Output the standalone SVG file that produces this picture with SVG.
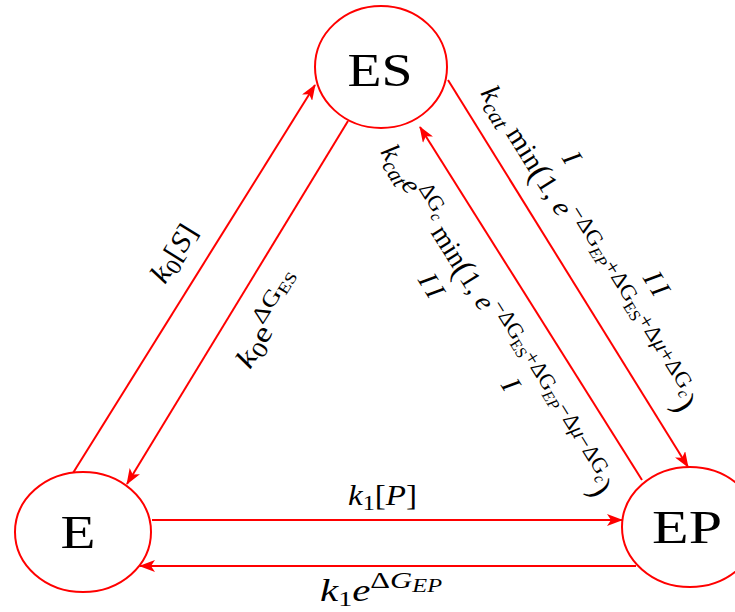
<svg xmlns="http://www.w3.org/2000/svg" width="735" height="612" viewBox="0 0 735 612">
<defs>
<marker id="arr" markerUnits="userSpaceOnUse" markerWidth="16" markerHeight="12" viewBox="0 0 16 12" refX="15" refY="6" orient="auto">
<path d="M0,0 L16,6 L0,12 L4,6 Z" fill="#f00"/>
</marker>
<style>
.node ellipse{fill:#fff;stroke:#f00;stroke-width:2}
.node text{font-family:"Liberation Serif","DejaVu Serif",serif;font-size:46px;text-anchor:middle;fill:#000}
.edge{stroke:#f00;stroke-width:2;fill:none;marker-end:url(#arr)}
.lbl{font-family:"Liberation Serif","DejaVu Serif",serif;font-size:28px;fill:#000}
.it{font-style:italic}
.s{font-size:22px}
.ss{font-size:16px}
.p{font-size:34px}
</style>
</defs>
<rect width="735" height="612" fill="#fff"/>
<g id="connectors">
<line class="edge" x1="73" y1="473" x2="315" y2="85"/>
<line class="edge" x1="348" y1="121" x2="127" y2="484"/>
<line class="edge" x1="448" y1="80" x2="688" y2="467"/>
<line class="edge" x1="642" y1="480" x2="420" y2="127"/>
<line class="edge" x1="152" y1="520" x2="622" y2="520"/>
<line class="edge" x1="636" y1="566" x2="140" y2="566"/>
</g>
<g id="labels">
<text class="lbl" x="348" y="505" style="font-size:30px" textLength="69" lengthAdjust="spacingAndGlyphs"><tspan class="it">k</tspan><tspan class="s" dy="5">1</tspan><tspan dy="-5">[</tspan><tspan class="it">P</tspan>]</text>
<text class="lbl" x="320" y="601" style="font-size:32px" textLength="122" lengthAdjust="spacingAndGlyphs"><tspan class="it">k</tspan><tspan style="font-size:22px" dy="5">1</tspan><tspan class="it" dy="-5">e</tspan><tspan style="font-size:24px" dy="-13">Δ</tspan><tspan style="font-size:24px" class="it">G</tspan><tspan style="font-size:19px" class="it" dy="4">EP</tspan></text>
<text class="lbl" transform="translate(165,285) rotate(-58)" style="font-size:29px" textLength="63" lengthAdjust="spacingAndGlyphs"><tspan class="it">k</tspan><tspan class="s" dy="5">0</tspan><tspan dy="-5">[</tspan><tspan class="it">S</tspan>]</text>
<text class="lbl" transform="translate(250,370) rotate(-58)" textLength="105" lengthAdjust="spacingAndGlyphs"><tspan class="it">k</tspan><tspan class="s" dy="5">0</tspan><tspan dy="-5">e</tspan><tspan class="s" dy="-13">ΔG</tspan><tspan class="ss" dy="4">ES</tspan></text>
<text class="lbl" transform="translate(480,93) rotate(58)" textLength="378" lengthAdjust="spacingAndGlyphs"><tspan class="it">k</tspan><tspan class="s it" dy="6">cat</tspan><tspan dy="-6"> min</tspan><tspan class="p" dy="2">(</tspan><tspan dy="-2">1, </tspan><tspan class="it">e</tspan><tspan class="s" dy="-13">−ΔG</tspan><tspan class="ss it" dy="5">EP</tspan><tspan class="s" dy="-5">+ΔG</tspan><tspan class="ss" dy="5">ES</tspan><tspan class="s" dy="-5">+Δ</tspan><tspan class="s it">μ</tspan><tspan class="s">+ΔG</tspan><tspan class="ss it" dy="5">c</tspan><tspan class="p" dy="10">)</tspan></text>
<text class="lbl" transform="translate(380,152) rotate(58)" textLength="408" lengthAdjust="spacingAndGlyphs"><tspan class="it">k</tspan><tspan class="s it" dy="6">cat</tspan><tspan class="it" dy="-6">e</tspan><tspan class="s" dy="-13">ΔG</tspan><tspan class="ss it" dy="5">c</tspan><tspan dy="8"> min</tspan><tspan class="p" dy="2">(</tspan><tspan dy="-2">1, </tspan><tspan class="it">e</tspan><tspan class="s" dy="-13">−ΔG</tspan><tspan class="ss" dy="5">ES</tspan><tspan class="s" dy="-5">+ΔG</tspan><tspan class="ss it" dy="5">EP</tspan><tspan class="s" dy="-5">−Δ</tspan><tspan class="s it">μ</tspan><tspan class="s">−ΔG</tspan><tspan class="ss it" dy="5">c</tspan><tspan class="p" dy="10">)</tspan></text>
<text class="lbl" transform="translate(572,158) rotate(58) skewX(-12)" text-anchor="middle" y="9">I</text>
<text class="lbl" transform="translate(658,286) rotate(58) skewX(-12)" text-anchor="middle" y="9" letter-spacing="5">II</text>
<text class="lbl" transform="translate(433,288) rotate(58) skewX(-12)" text-anchor="middle" y="9" letter-spacing="5">II</text>
<text class="lbl" transform="translate(511,385) rotate(58) skewX(-12)" text-anchor="middle" y="9">I</text>
</g>
<g id="node-ES" class="node">
<ellipse cx="381" cy="67" rx="66" ry="61"/>
<text x="380" y="86" textLength="65" lengthAdjust="spacingAndGlyphs">ES</text>
</g>
<g id="node-E" class="node">
<ellipse cx="83" cy="532" rx="68" ry="60"/>
<text x="78" y="548" textLength="35" lengthAdjust="spacingAndGlyphs">E</text>
</g>
<g id="node-EP" class="node">
<ellipse cx="690" cy="527" rx="68" ry="60"/>
<text x="687" y="543" textLength="70" lengthAdjust="spacingAndGlyphs">EP</text>
</g>
</svg>
